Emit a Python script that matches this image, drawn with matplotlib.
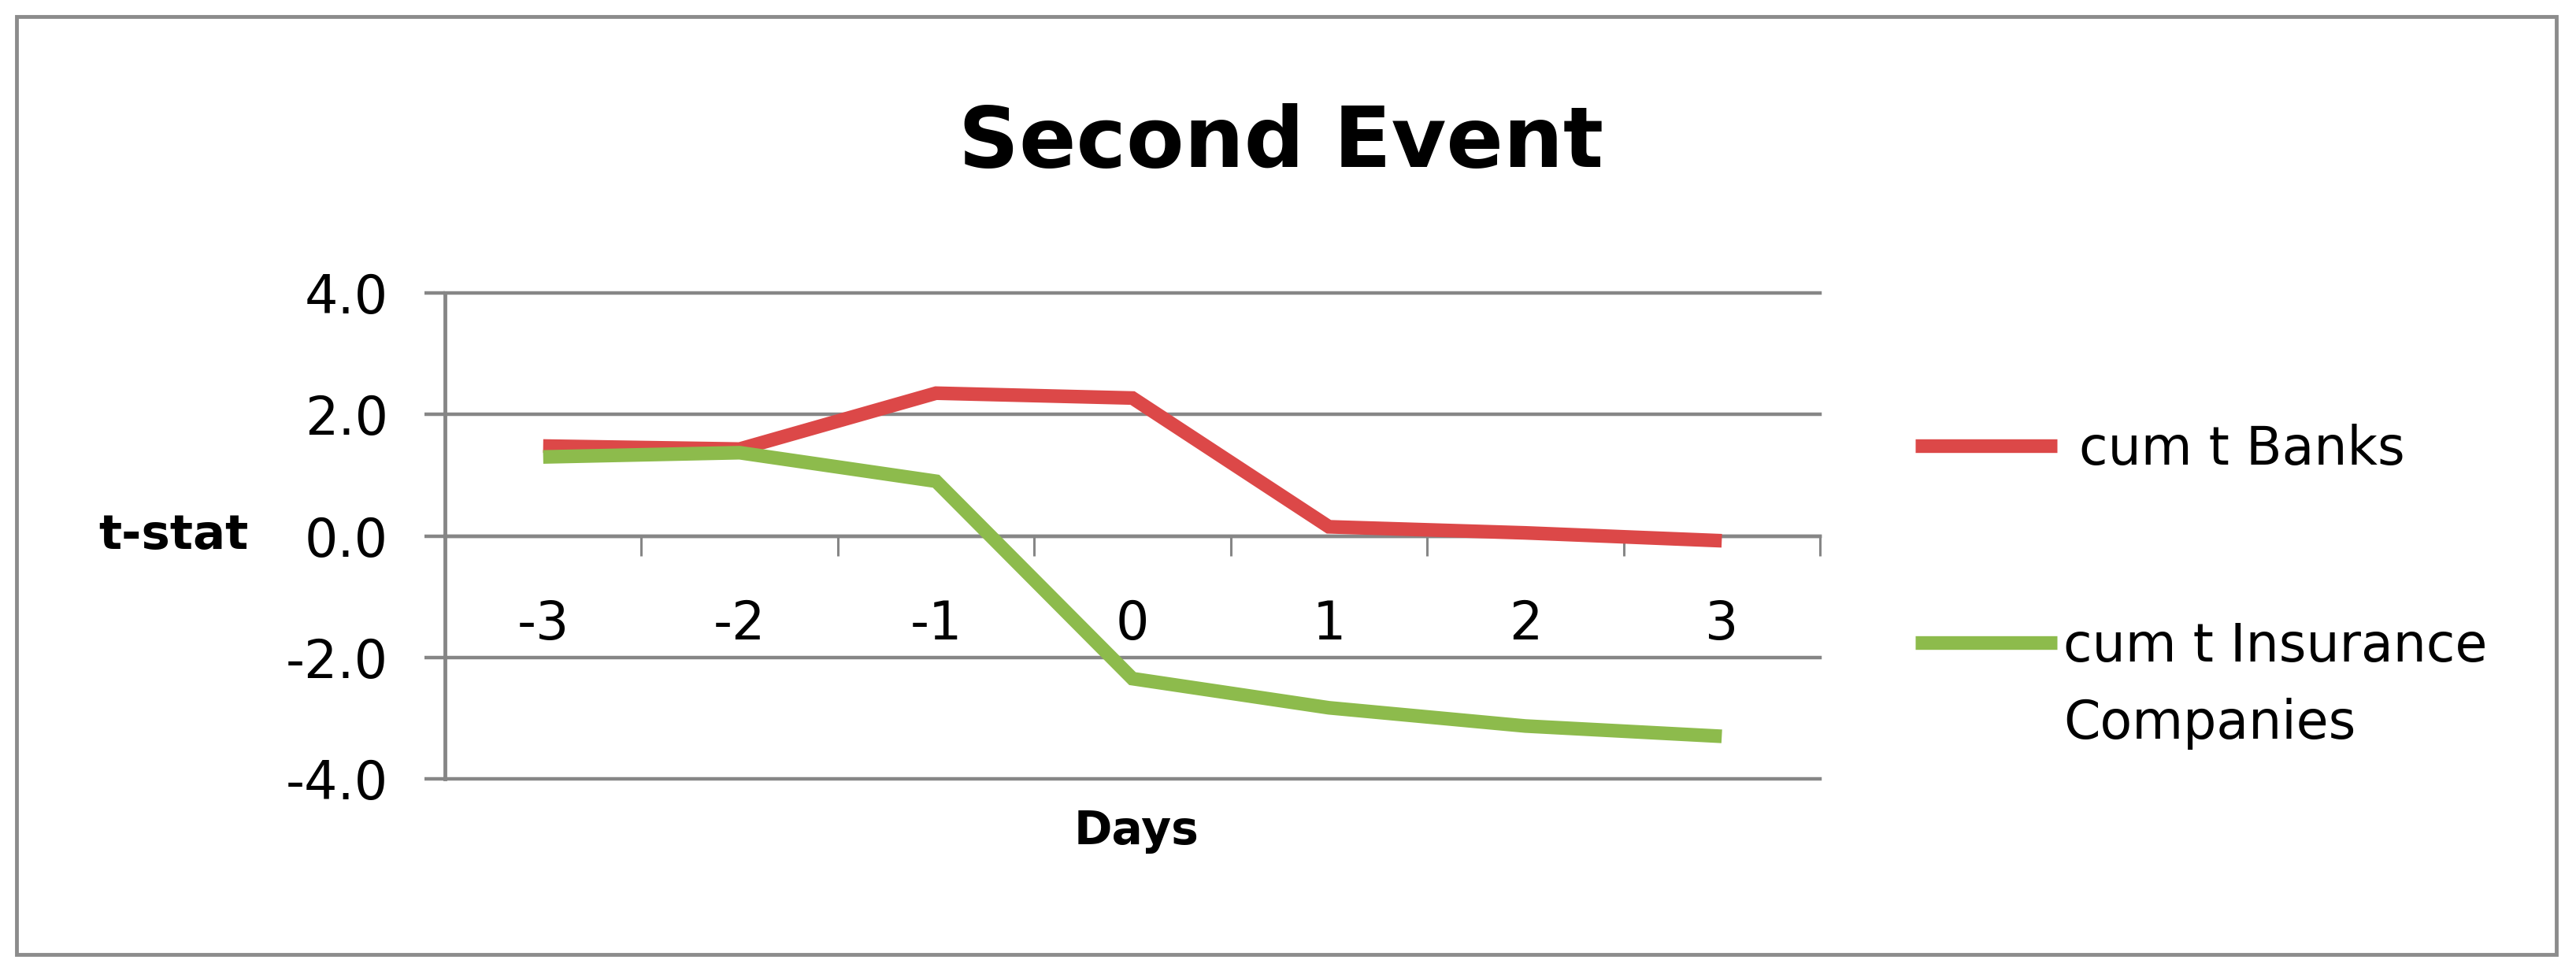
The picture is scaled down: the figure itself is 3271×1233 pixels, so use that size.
import matplotlib
matplotlib.use('Agg')
import matplotlib.pyplot as plt
from matplotlib.lines import Line2D
from matplotlib.patches import Rectangle
import numpy as np
import textwrap

# ---- data ----
days = ["-3", "-2", "-1", "0", "1", "2", "3"]
banks = [1.48, 1.43, 2.35, 2.27, 0.15, 0.05, -0.08]
insurance = [1.30, 1.37, 0.90, -2.35, -2.83, -3.13, -3.30]
series_names = ["cum t Banks", "cum t Insurance Companies"]
yticks = [-4.0, -2.0, 0.0, 2.0, 4.0]
title = "Second Event"
ylabel = "t-stat"
xlabel = "Days"

# ---- style ----
W, H = 3271, 1233
RED = '#DC4848'
GREEN = '#8DBB4C'
GREY = '#868686'
FS = 48

fig = plt.figure(figsize=(W / 100, H / 100), dpi=100)
fig.patch.set_facecolor('white')

x0, x1, yt, yb = 565, 2311, 372, 989
ax = fig.add_axes([x0 / W, 1 - yb / H, (x1 - x0) / W, (yb - yt) / H])
ax.set_facecolor('none')

xs = np.arange(len(days))
ax.plot(xs, banks, color=RED, lw=12.5, solid_capstyle='butt', solid_joinstyle='miter', zorder=4)
ax.plot(xs, insurance, color=GREEN, lw=12.5, solid_capstyle='butt', solid_joinstyle='miter', zorder=5)

ax.set_xlim(-0.5, len(days) - 0.5)
ax.set_ylim(min(yticks), max(yticks))

for v in yticks:
    ax.axhline(v, color=GREY, lw=3.2, zorder=1, clip_on=False)

for s in ['top', 'right']:
    ax.spines[s].set_visible(False)
ax.spines['left'].set_color(GREY)
ax.spines['left'].set_linewidth(3.5)
ax.spines['bottom'].set_position(('data', 0))
ax.spines['bottom'].set_color(GREY)
ax.spines['bottom'].set_linewidth(3.2)

ax.set_yticks(yticks)
ax.set_yticklabels([f"{v:.1f}" for v in yticks], fontsize=FS)
ax.tick_params(axis='y', direction='out', length=19, width=3.2, color=GREY, pad=33)

ax.set_xticks(np.arange(len(days) + 1) - 0.5)
ax.set_xticklabels([])
ax.tick_params(axis='x', which='major', direction='out', length=18, width=2.2, color=GREY)
ax.set_xticks(xs, minor=True)
ax.set_xticklabels(days, minor=True, fontsize=FS)
ax.tick_params(axis='x', which='minor', length=0, pad=57)

# labels and title
fig.text(316 / W, 1 - 680 / H, ylabel, ha='right', va='center', fontsize=44, fontweight='bold')
fig.text(1443 / W, 1 - 1055 / H, xlabel, ha='center', va='center', fontsize=42, fontweight='bold')
fig.text(1627 / W, 1 - 183 / H, title, ha='center', va='center', fontsize=77, fontweight='bold')

# legend (manual, Excel-like)
leg = [(series_names[0], RED, 566, 2640), (series_names[1], GREEN, 816, 2620)]
for name, col, ly, tx in leg:
    fig.add_artist(Line2D([2432 / W, 2612 / W], [1 - ly / H, 1 - ly / H], transform=fig.transFigure,
                          color=col, lw=12.5, solid_capstyle='butt'))
    wrapped = textwrap.fill(name, 15)
    if '\n' in wrapped:
        fig.text(tx / W, 1 - (ly - 28) / H, wrapped, ha='left', va='top', fontsize=FS, linespacing=1.62)
    else:
        fig.text(tx / W, 1 - (ly + 5) / H, wrapped, ha='left', va='center', fontsize=FS)

# outer border
fig.add_artist(Rectangle((21 / W, 1 - 1212 / H), (3246 - 21) / W, (1212 - 21) / H,
                         transform=fig.transFigure, fill=False, edgecolor='#8C8C8C', lw=3.5))

fig.savefig('out.png', dpi=100, facecolor='white')
